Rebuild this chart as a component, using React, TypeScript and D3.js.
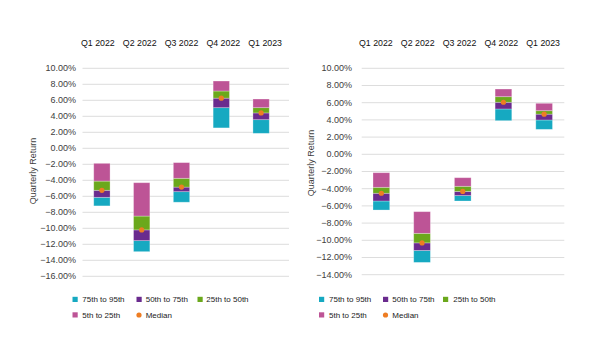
import React from "react";
import * as d3 from "d3";

const categories = ["Q1 2022", "Q2 2022", "Q3 2022", "Q4 2022", "Q1 2023"];

// Left chart percentile boundaries (top to bottom)
const leftP5 = [-1.88, -4.3, -1.79, 8.41, 6.16];
const leftP25 = [-4.1, -8.47, -3.75, 7.16, 5.08];
const leftP50 = [-5.25, -10.2, -4.85, 6.27, 4.42];
const leftP75 = [-6.13, -11.54, -5.42, 5.08, 3.58];
const leftP95 = [-7.2, -12.92, -6.74, 2.55, 1.87];
const leftTicks = [10, 8, 6, 4, 2, 0, -2, -4, -6, -8, -10, -12, -14, -16];

// Right chart percentile boundaries
const rightP5 = [-2.14, -6.67, -2.72, 7.59, 5.93];
const rightP25 = [-3.84, -9.19, -3.72, 6.7, 5.07];
const rightP50 = [-4.53, -10.3, -4.32, 6.05, 4.67];
const rightP75 = [-5.43, -11.18, -4.8, 5.27, 3.99];
const rightP95 = [-6.48, -12.57, -5.43, 3.91, 2.9];
const rightTicks = [10, 8, 6, 4, 2, 0, -2, -4, -6, -8, -10, -12, -14];

const legendNames = ["75th to 95th", "50th to 75th", "25th to 50th", "5th to 25th", "Median"];

const COLORS = {
  teal: "#16A9C1",
  purple: "#6A2B8E",
  green: "#6BA81C",
  pink: "#BD5496",
  orange: "#EE7D23",
};

const FONT = "'Liberation Sans', Arial, sans-serif";
const TEXT = "#404040";

type PanelProps = {
  p5: number[]; p25: number[]; p50: number[]; p75: number[]; p95: number[];
  ticks: number[];
  yDomain: [number, number];
  yRange: [number, number];
  gridX: [number, number];
  barRange: [number, number];
  labelRange: [number, number];
  tickRight: number;
  titleX: number;
  titleY: number;
  legendX: [number, number, number];
  legendTextX: [number, number, number];
};

function Panel(props: PanelProps) {
  const y = d3.scaleLinear().domain(props.yDomain).range(props.yRange);
  const xb = d3.scaleBand<string>().domain(categories).range(props.barRange).paddingInner(0.59).paddingOuter(0.295);
  const xl = d3.scaleBand<string>().domain(categories).range(props.labelRange);
  const fmt = (v: number) => d3.format(".2f")(v) + "%";

  const segs = [
    { lo: props.p95, hi: props.p75, color: COLORS.teal },
    { lo: props.p75, hi: props.p50, color: COLORS.purple },
    { lo: props.p50, hi: props.p25, color: COLORS.green },
    { lo: props.p25, hi: props.p5, color: COLORS.pink },
  ];

  const legendItems = [
    { name: legendNames[0], color: COLORS.teal, row: 0, col: 0 },
    { name: legendNames[1], color: COLORS.purple, row: 0, col: 1 },
    { name: legendNames[2], color: COLORS.green, row: 0, col: 2 },
    { name: legendNames[3], color: COLORS.pink, row: 1, col: 0 },
    { name: legendNames[4], color: COLORS.orange, row: 1, col: 1, dot: true },
  ];
  const rowY = [299.5, 315];

  return (
    <g fontFamily={FONT}>
      {props.ticks.map((t) => (
        <g key={t}>
          <line x1={props.gridX[0]} x2={props.gridX[1]} y1={y(t)} y2={y(t)} stroke="#DDDDDD" strokeWidth={1} />
          <text x={props.tickRight} y={y(t)} dy="0.33em" textAnchor="end" fontSize={9} fill={TEXT}>
            {fmt(t)}
          </text>
        </g>
      ))}
      {categories.map((c) => (
        <text key={c} x={(xl(c) as number) + xl.bandwidth() / 2} y={45.5} textAnchor="middle" fontSize={8.8} fill="#111">
          {c}
        </text>
      ))}
      <text
        transform={`translate(${props.titleX},${props.titleY}) rotate(-90)`}
        textAnchor="middle"
        fontSize={9}
        fill={TEXT}
      >
        Quarterly Return
      </text>
      {segs.map((s, si) =>
        categories.map((c, i) => (
          <rect
            key={si + "-" + c}
            x={xb(c)}
            width={xb.bandwidth()}
            y={y(s.hi[i])}
            height={y(s.lo[i]) - y(s.hi[i])}
            fill={s.color}
            stroke="#ffffff"
            strokeOpacity={0.35}
            strokeWidth={0.8}
          />
        ))
      )}
      {categories.map((c, i) => (
        <circle key={"m" + c} cx={(xb(c) as number) + xb.bandwidth() / 2} cy={y(props.p50[i])} r={2.6} fill={COLORS.orange} />
      ))}
      {legendItems.map((it) => (
        <g key={it.name}>
          {it.dot ? (
            <circle cx={props.legendX[it.col] + 2.5} cy={rowY[it.row]} r={2.6} fill={it.color} />
          ) : (
            <rect x={props.legendX[it.col]} y={rowY[it.row] - 2.7} width={5.2} height={5.2} fill={it.color} />
          )}
          <text x={props.legendTextX[it.col]} y={rowY[it.row]} dy="0.35em" fontSize={8} fill="#222">
            {it.name}
          </text>
        </g>
      ))}
    </g>
  );
}

export default function App() {
  return (
    <svg width={594} height={347} style={{ position: "absolute", left: 0, top: 0, background: "#fff" }}>
      <rect width={594} height={347} fill="#fff" />
      <Panel
        p5={leftP5} p25={leftP25} p50={leftP50} p75={leftP75} p95={leftP95}
        ticks={leftTicks}
        yDomain={[-16, 10]}
        yRange={[276.3, 68.3]}
        gridX={[82.5, 289]}
        barRange={[82, 281]}
        labelRange={[77, 286]}
        tickRight={76}
        titleX={35.5}
        titleY={171}
        legendX={[72.5, 136.5, 197.5]}
        legendTextX={[82.3, 145.7, 206.3]}
      />
      <Panel
        p5={rightP5} p25={rightP25} p50={rightP50} p75={rightP75} p95={rightP95}
        ticks={rightTicks}
        yDomain={[-14, 10]}
        yRange={[274.7, 68.3]}
        gridX={[361.7, 564.3]}
        barRange={[361, 564.5]}
        labelRange={[355, 564]}
        tickRight={352}
        titleX={314}
        titleY={163}
        legendX={[319, 383, 443]}
        legendTextX={[329, 392.3, 453.3]}
      />
    </svg>
  );
}
